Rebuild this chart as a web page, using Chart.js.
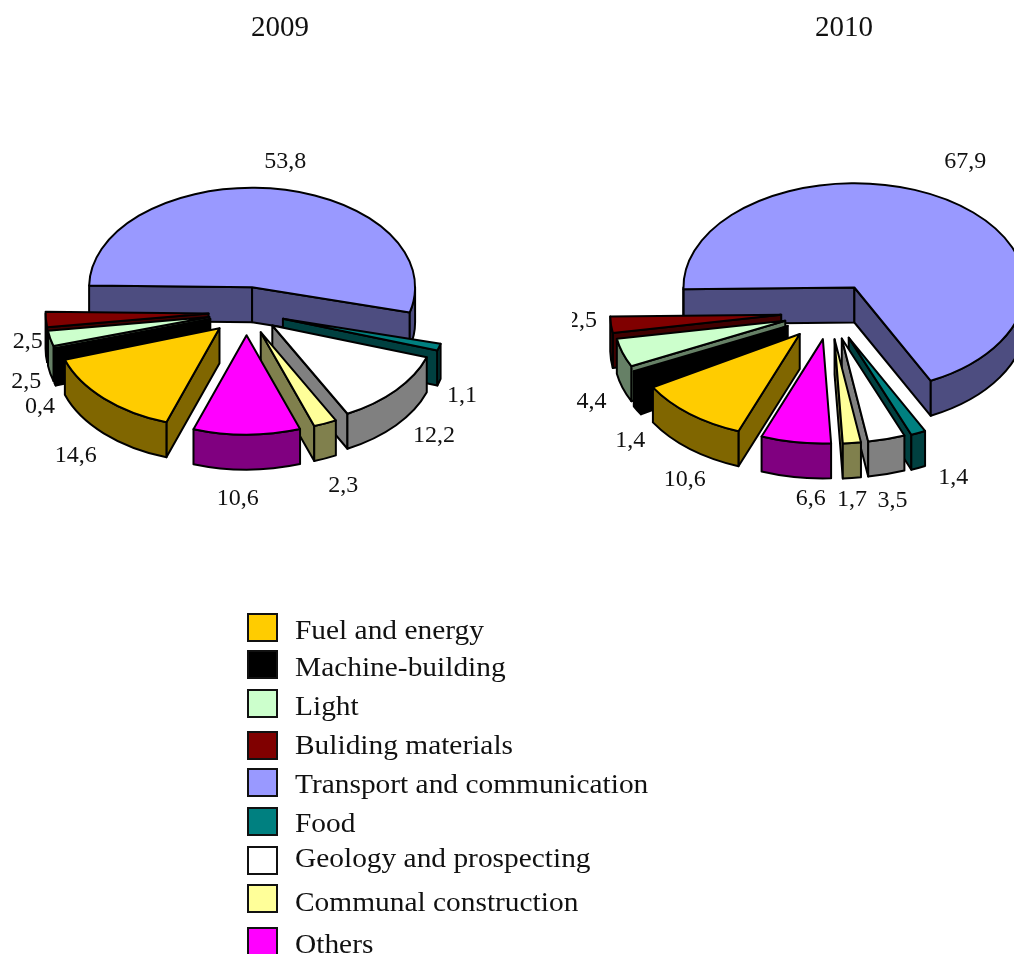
<!DOCTYPE html>
<html>
<head>
<meta charset="utf-8">
<title>Investments by sector</title>
<script src="https://cdn.jsdelivr.net/npm/chart.js@4"></script>
<style>
  html, body { margin: 0; padding: 0; background: #fff; }
  body { position: relative; width: 1014px; height: 954px; overflow: hidden; }
  canvas { position: absolute; top: 0; }
  #chart2009 { left: 0; }
  #chart2010 { left: 572px; }
  .swatch { position: absolute; left: 247px; width: 27px; height: 25px; border: 2px solid #111; }
  .name { position: absolute; left: 295px; font: 28px/30px "Liberation Serif", serif; color: #111; white-space: nowrap; transform: scaleX(1.05); transform-origin: left; }
</style>
</head>
<body>
<canvas id="chart2009" width="493" height="624"></canvas>
<canvas id="chart2010" width="516" height="624"></canvas>
<div id="legend"></div>

<script>
const categories = ["Fuel and energy", "Machine-building", "Light", "Buliding materials",
  "Transport and communication", "Food", "Geology and prospecting", "Communal construction", "Others"];
const values2009 = [14.6, 0.4, 2.5, 2.5, 53.8, 1.1, 12.2, 2.3, 10.6];
const values2010 = [10.6, 1.4, 4.4, 2.5, 67.9, 1.4, 3.5, 1.7, 6.6];

const topColors = ["#FFCC00", "#000000", "#CCFFCC", "#800000", "#9999FF", "#008080", "#FFFFFF", "#FFFF99", "#FF00FF"];
const wallColors = ["#806600", "#000000", "#668066", "#400000", "#4D4D80", "#004040", "#808080", "#80804D", "#800080"];

// how far each slice is pulled out of the pie
const explode2009 = [38, 38, 38, 38, 41, 38, 34, 36, 38];
const explode2010 = [47, 48, 47, 49, 47, 46, 45, 45, 45];

// label position relative to the middle of each slice's rim
const labelShift2009 = [[-28,57],[-15,57],[-24,43],[-18,22],[11,-27],[23,49],[38,45],[18,62],[-9,64]];
const labelShift2010 = [[-5,66],[-7,65],[-31,49],[-29,-4],[22,-37],[35,45],[6,62],[0,57],[15,57]];

// legend rows: swatch top and text baseline
const swatchTops = [613, 650, 689, 731, 768, 807, 846, 884, 927];
const nameBaselines = [639, 676, 715, 754, 793, 832, 867, 911, 953];

const squash = 0.61;
const depth = 35;
const labelFont = '24px "Liberation Serif", serif';
const yearFont = '29px "Liberation Serif", serif';

function drawWedge(ctx, arc, i) {
  const off = arc.options.offset;
  const s = arc.startAngle, e = arc.endAngle, mid = (s + e) / 2;
  const r = arc.outerRadius, ry = r * squash;
  const cx = arc.x + Math.cos(mid) * off;
  const cy = arc.y + Math.sin(mid) * off * squash;

  ctx.fillStyle = wallColors[i];

  // radial faces turned towards the viewer
  [[s, -Math.cos(s)], [e, Math.cos(e)]].forEach(function (face) {
    if (face[1] <= 0) return;
    const px = cx + Math.cos(face[0]) * r, py = cy + Math.sin(face[0]) * ry;
    ctx.beginPath();
    ctx.moveTo(cx, cy);
    ctx.lineTo(px, py);
    ctx.lineTo(px, py + depth);
    ctx.lineTo(cx, cy + depth);
    ctx.closePath();
    ctx.fill();
    ctx.stroke();
  });

  // outer rim, only the lower half of the ellipse can be seen
  const turn = Math.PI * 2;
  const s0 = ((s % turn) + turn) % turn;
  const e0 = s0 + (e - s);
  [[0, Math.PI], [turn, turn + Math.PI]].forEach(function (band) {
    const lo = Math.max(s0, band[0]), hi = Math.min(e0, band[1]);
    if (hi <= lo) return;
    ctx.beginPath();
    ctx.ellipse(cx, cy, r, ry, 0, lo, hi);
    ctx.ellipse(cx, cy + depth, r, ry, 0, hi, lo, true);
    ctx.closePath();
    ctx.fill();
    ctx.stroke();
  });

  // top face
  ctx.fillStyle = topColors[i];
  ctx.beginPath();
  ctx.moveTo(cx, cy);
  ctx.ellipse(cx, cy, r, ry, 0, s, e);
  ctx.closePath();
  ctx.fill();
  ctx.stroke();
}

const pie3d = {
  id: "pie3d",
  beforeDatasetDraw: function (chart, args) {
    const ctx = chart.ctx;
    const order = args.meta.data.map(function (arc, i) {
      return { arc: arc, i: i, y: Math.sin((arc.startAngle + arc.endAngle) / 2) };
    }).sort(function (a, b) { return a.y - b.y; });

    ctx.save();
    ctx.lineWidth = 2;
    ctx.lineJoin = "round";
    ctx.strokeStyle = "#000";
    order.forEach(function (o) { drawWedge(ctx, o.arc, o.i); });
    ctx.restore();
    return false;
  },
  afterDraw: function (chart, args, opts) {
    const ctx = chart.ctx;
    ctx.save();
    ctx.font = labelFont;
    ctx.fillStyle = "#111";
    ctx.textAlign = "center";
    ctx.textBaseline = "middle";
    chart.getDatasetMeta(0).data.forEach(function (arc, i) {
      const mid = (arc.startAngle + arc.endAngle) / 2;
      const far = arc.outerRadius + arc.options.offset;
      const x = arc.x + Math.cos(mid) * far + opts.shift[i][0];
      const y = arc.y + Math.sin(mid) * far * squash + opts.shift[i][1];
      ctx.fillText(chart.data.datasets[0].data[i].toFixed(1).replace(".", ","), x, y);
    });
    ctx.font = yearFont;
    ctx.fillText(opts.year, opts.yearX, 28);
    ctx.restore();
  }
};

function makePie(id, values, rotation, radius, explode, shift, year, yearX) {
  return new Chart(id, {
    type: "pie",
    data: {
      labels: categories,
      datasets: [{ data: values, backgroundColor: topColors, offset: explode, borderWidth: 0 }]
    },
    options: {
      responsive: false,
      animation: false,
      rotation: rotation,
      radius: radius,
      layout: { padding: 0 },
      plugins: {
        legend: { display: false },
        tooltip: { enabled: false },
        pie3d: { shift: shift, year: year, yearX: yearX }
      }
    },
    plugins: [pie3d]
  });
}

makePie("chart2009", values2009, 199, 163, explode2009, labelShift2009, "2009", 280);
makePie("chart2010", values2010, 201, 171, explode2010, labelShift2010, "2010", 272);

// legend
const legend = document.getElementById("legend");
categories.forEach(function (name, i) {
  const box = document.createElement("div");
  box.className = "swatch";
  box.style.top = swatchTops[i] + "px";
  box.style.background = topColors[i];
  legend.appendChild(box);

  const label = document.createElement("div");
  label.className = "name";
  label.style.top = (nameBaselines[i] - 24) + "px";
  label.textContent = name;
  legend.appendChild(label);
});
</script>
</body>
</html>
